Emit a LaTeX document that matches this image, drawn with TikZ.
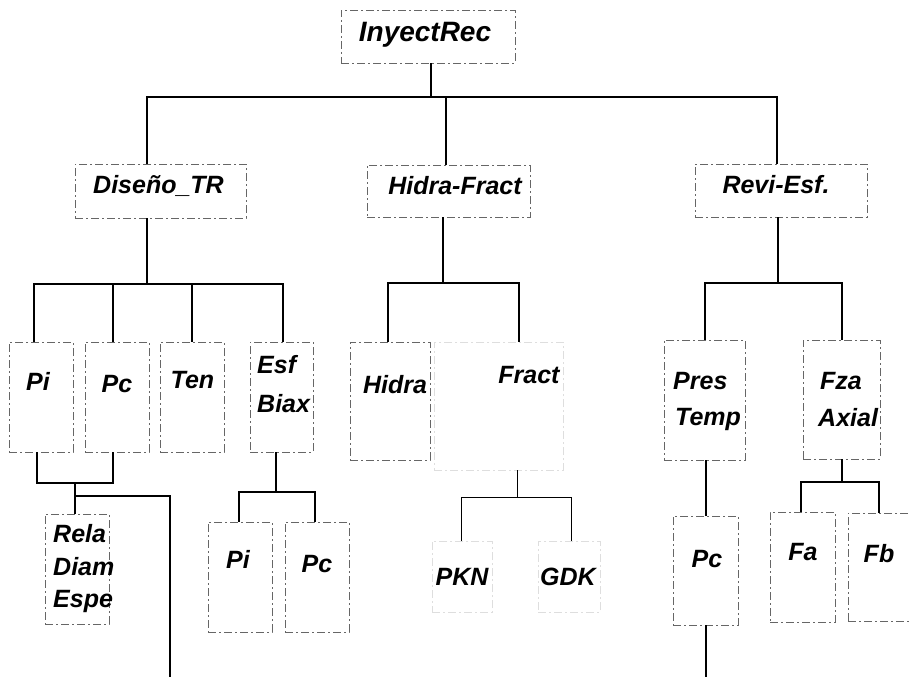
\documentclass[tikz,border=0pt]{standalone}
\usepackage{fontspec}
\setmainfont{Liberation Sans}
\begin{document}
\begin{tikzpicture}[x=1pt,y=-1pt,
  box/.style={draw=black!60, line width=0.8pt, dash pattern=on 8pt off 3pt on 2pt off 3pt, inner sep=0pt},
  faint/.style={box, draw=black!13},
  conn/.style={line width=1.6pt, black},
  thinconn/.style={line width=1pt, black},
  lbl/.style={font=\fontsize{25}{30}\selectfont\bfseries\itshape, inner sep=0pt, anchor=base},
  mlbl/.style={lbl, anchor=base west},
  rlbl/.style={lbl, font=\fontsize{28}{32}\selectfont\bfseries\itshape}]
\useasboundingbox (0,0) rectangle (910,677);

% ---- boxes ----
\node[box, minimum width=174, minimum height=53] (root) at (428,36.5) {};
\node[box, minimum width=171, minimum height=54] (dis) at (160.5,191) {};
\node[box, minimum width=163, minimum height=52] (hf) at (448.5,191) {};
\node[box, minimum width=172, minimum height=53] (rev) at (781,190.5) {};

\node[box, minimum width=64, minimum height=110] (pi1) at (41,397) {};
\node[box, minimum width=64, minimum height=110] (pc1) at (117,397) {};
\node[box, minimum width=64, minimum height=110] (ten) at (192,397) {};
\node[box, minimum width=63, minimum height=110] (esf) at (281.5,397) {};
\node[box, minimum width=80, minimum height=118] (hid) at (390,401) {};
\node[faint, minimum width=129, minimum height=128] (fra) at (498.5,406) {};
\node[box, minimum width=81, minimum height=120] (pt) at (704.5,400) {};
\node[box, minimum width=77, minimum height=119] (fza) at (841.5,399.5) {};

\node[box, minimum width=64, minimum height=110] (rela) at (77,569) {};
\node[box, minimum width=64, minimum height=110] (pi2) at (240,577) {};
\node[box, minimum width=64, minimum height=110] (pc2) at (317,577) {};
\node[faint, minimum width=60, minimum height=71] (pkn) at (462,576.5) {};
\node[faint, minimum width=62, minimum height=71] (gdk) at (569,576.5) {};
\node[box, minimum width=65, minimum height=109] (pc3) at (705.5,570.5) {};
\node[box, minimum width=65, minimum height=110] (fa) at (802.5,567) {};
\node[box, minimum width=64, minimum height=108] (fb) at (880,567) {};

% ---- labels ----
\node[rlbl] (rootT) at (425,42) {InyectRec};
\node[lbl] (disT) at (158.5,193) {Diseño\_TR};
\node[lbl] (hfT) at (455,194) {Hidra-Fract};
\node[lbl] (revT) at (776,193) {Revi-Esf.};
\node[lbl] (pi1T) at (38,390) {Pi};
\node[lbl] (pc1T) at (117,392) {Pc};
\node[lbl] (tenT) at (192.5,388) {Ten};
\node[mlbl] (esfT) at (257,373) {Esf};
\node[mlbl] (biaxT) at (257,412) {Biax};
\node[lbl] (hidT) at (395,393) {Hidra};
\node[lbl] (fraT) at (529,383) {Fract};
\node[mlbl] (presT) at (673,389) {Pres};
\node[mlbl] (tempT) at (675,425) {Temp};
\node[mlbl] (fzaT) at (820,389) {Fza};
\node[mlbl] (axialT) at (818,426) {Axial};
\node[mlbl] (relaT) at (53,542) {Rela};
\node[mlbl] (diamT) at (53,575) {Diam};
\node[mlbl] (espeT) at (53,607) {Espe};
\node[lbl] (pi2T) at (238,568) {Pi};
\node[lbl] (pc2T) at (317,572) {Pc};
\node[lbl] (pknT) at (462,585) {PKN};
\node[lbl] (gdkT) at (568,585) {GDK};
\node[lbl] (pc3T) at (707,567) {Pc};
\node[lbl] (faT) at (803,560) {Fa};
\node[lbl] (fbT) at (879,562) {Fb};

% ---- junction coordinates ----
\coordinate (b0) at (431,97);
\coordinate (bL) at (147,97);
\coordinate (bR) at (777,97);
\coordinate (b1) at (446,97);
\coordinate (c0) at (147,284);
\coordinate (cA) at (34,284);
\coordinate (cB) at (113,284);
\coordinate (cC) at (192,284);
\coordinate (cD) at (283,284);
\coordinate (d0) at (443,283);
\coordinate (dA) at (388,283);
\coordinate (dB) at (519,283);
\coordinate (e0) at (778,283);
\coordinate (eA) at (705,283);
\coordinate (eB) at (842,283);
\coordinate (f0) at (75,483);
\coordinate (fA) at (37,483);
\coordinate (fB) at (113,483);
\coordinate (g0) at (75,496);
\coordinate (g1) at (170,496);
\coordinate (gEnd) at (170,677);
\coordinate (h0) at (276,492);
\coordinate (hA) at (239,492);
\coordinate (hB) at (315,492);
\coordinate (k0) at (517,497);
\coordinate (kA) at (461,497);
\coordinate (kB) at (571,497);
\coordinate (mEnd) at (706,677);
\coordinate (n0) at (842,482);
\coordinate (nA) at (801,482);
\coordinate (nB) at (879,482);

% ---- connectors ----
\draw[conn] (root.south -| b0) -- (b0);
\draw[conn] (dis.north -| bL) -- (bL) -- (bR) -- (rev.north -| bR);
\draw[conn] (b1) -- (hf.north -| b1);

\draw[conn] (dis.south -| c0) -- (c0);
\draw[conn] (pi1.north -| cA) -- (cA) -- (cD) -- (esf.north -| cD);
\draw[conn] (cB) -- (pc1.north -| cB);
\draw[conn] (cC) -- (ten.north -| cC);

\draw[conn] (hf.south -| d0) -- (d0);
\draw[conn] (hid.north -| dA) -- (dA) -- (dB) -- (fra.north -| dB);

\draw[conn] (rev.south -| e0) -- (e0);
\draw[conn] (pt.north -| eA) -- (eA) -- (eB) -- (fza.north -| eB);

\draw[conn] (pi1.south -| fA) -- (fA) -- (fB) -- (pc1.south -| fB);
\draw[conn] (f0) -- (rela.north -| f0);
\draw[conn] (g0) -- (g1) -- (gEnd);

\draw[conn] (esf.south -| h0) -- (h0);
\draw[conn] (pi2.north -| hA) -- (hA) -- (hB) -- (pc2.north -| hB);

\draw[thinconn] (fra.south -| k0) -- (k0);
\draw[thinconn] (pkn.north -| kA) -- (kA) -- (kB) -- (gdk.north -| kB);

\draw[conn] (pt.south -| mEnd) -- (pc3.north -| mEnd);
\draw[conn] (pc3.south -| mEnd) -- (mEnd);

\draw[conn] (fza.south -| n0) -- (n0);
\draw[conn] (fa.north -| nA) -- (nA) -- (nB) -- (fb.north -| nB);
\end{tikzpicture}
\end{document}
